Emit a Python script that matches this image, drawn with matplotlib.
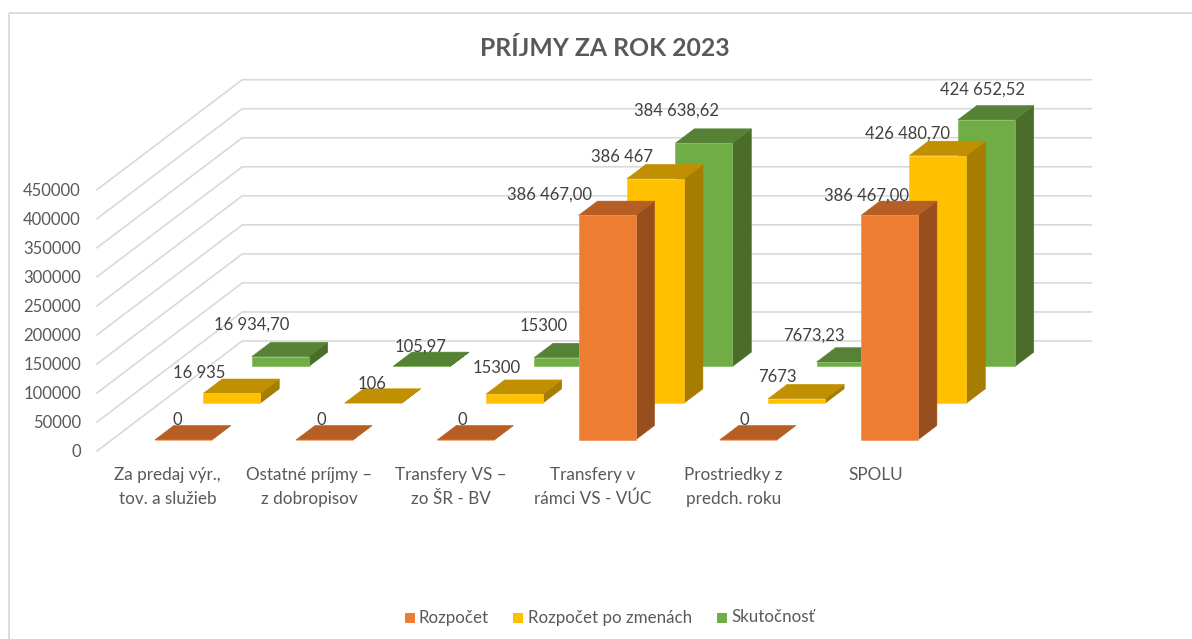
import matplotlib
matplotlib.use("Agg")
import matplotlib.pyplot as plt
from matplotlib.patches import Polygon, Rectangle

plt.rcParams['font.family'] = ['Lato', 'DejaVu Sans']

title = "PRÍJMY ZA ROK 2023"
categories = ["Za predaj výr.,\ntov. a služieb", "Ostatné príjmy –\nz dobropisov",
              "Transfery VS –\nzo ŠR - BV", "Transfery v\nrámci VS - VÚC",
              "Prostriedky z\npredch. roku", "SPOLU"]
series_names = ["Rozpočet", "Rozpočet po zmenách", "Skutočnosť"]
rozpocet = [0, 0, 0, 386467.00, 0, 386467.00]
po_zmenach = [16935, 106, 15300, 386467, 7673, 426480.70]
skutocnost = [16934.70, 105.97, 15300, 384638.62, 7673.23, 424652.52]
labels_rozpocet = ["0", "0", "0", "386 467,00", "0", "386 467,00"]
labels_po_zmenach = ["16 935", "106", "15300", "386 467", "7673", "426 480,70"]
labels_skutocnost = ["16 934,70", "105,97", "15300", "384 638,62", "7673,23", "424 652,52"]
axis_ticks = [0, 50000, 100000, 150000, 200000, 250000, 300000, 350000, 400000, 450000]

all_values = [rozpocet, po_zmenach, skutocnost]
all_labels = [labels_rozpocet, labels_po_zmenach, labels_skutocnost]

# Label offsets in pixels from the top-front-left corner of each bar (style only)
label_offsets = [
    [(22, -20), (25, -20), (25, -20), (-29, -21), (25, -20), (5, -20)],
    [(-4, -20), (27, -19), (11, -26), (-5, -22), (9, -22), (-2, -22)],
    [(0, -32), (28, -20), (9.5, -32), (1, -33), (-3, -26), (25, -30)],
]

# Oblique projection of the 3-D chart box onto the figure pixels
X0, Y0 = 97.0, 451.0
CAT_W = 141.5
DEPTH_X, DEPTH_Y = 48.43, 36.67
Z_PX = 261.3 / 450000
BAR_W = 57.0 / CAT_W
BAR_D = 0.39
BAR_STEP = 0.998
BAR_PAD = 0.305


def proj(x, d, z):
    return (X0 + CAT_W * x + DEPTH_X * d, Y0 - DEPTH_Y * d - Z_PX * z)


front = ["#ED7D31", "#FFC000", "#70AD47"]
top = ["#B65E23", "#C09000", "#558234"]
side = ["#984F1D", "#A67D00", "#4A6E2A"]
edge = ["#F2935B", "#FFC926", "#84BC5F"]

fig = plt.figure(figsize=(11.92, 6.39), dpi=100, facecolor="white")
ax = fig.add_axes([0, 0, 1, 1])
ax.set_xlim(0, 1192)
ax.set_ylim(639, 0)
ax.axis("off")

# chart frame: runs off the right and bottom edges of the picture
ax.add_patch(Rectangle((9, 13), 1300, 800, fill=False, ec="#D9D9D9", lw=1.3, clip_on=True))

ax.text(605, 48.5, title, ha="center", va="center", fontsize=17.8, fontweight="bold", color="#595959")

# walls' gridlines
depth_total = 3
for t in axis_ticks:
    p0 = proj(0, 0, t)
    p1 = proj(0, depth_total, t)
    p2 = proj(len(categories), depth_total, t)
    ax.plot([p0[0], p1[0], p2[0]], [p0[1], p1[1], p2[1]], color="#D9D9D9", lw=1.2,
            solid_joinstyle="miter", zorder=1)
    ax.text(81, p0[1] + 0.8, str(t), ha="right", va="center", fontsize=12, color="#595959")

# bars, back to front
z = 2
for s in range(len(all_values) - 1, -1, -1):
    d0 = s + (1 - BAR_D) / 2
    d1 = d0 + BAR_D
    for c, v in enumerate(all_values[s]):
        x0 = c * BAR_STEP + BAR_PAD
        x1 = x0 + BAR_W
        top_face = [proj(x0, d0, v), proj(x1, d0, v), proj(x1, d1, v), proj(x0, d1, v)]
        side_face = [proj(x1, d0, 0), proj(x1, d1, 0), proj(x1, d1, v), proj(x1, d0, v)]
        front_face = [proj(x0, d0, 0), proj(x1, d0, 0), proj(x1, d0, v), proj(x0, d0, v)]
        ax.add_patch(Polygon(side_face, fc=side[s], ec=side[s], lw=0.4, zorder=z))
        ax.add_patch(Polygon(top_face, fc=top[s], ec=top[s], lw=0.4, zorder=z))
        ax.add_patch(Polygon(front_face, fc=front[s], ec=edge[s], lw=0.5, zorder=z + 0.5))
    z += 1

# data labels
for s, vals in enumerate(all_values):
    d0 = s + (1 - BAR_D) / 2
    for c, v in enumerate(vals):
        x0 = c * BAR_STEP + BAR_PAD
        px, py = proj(x0, d0, v)
        ox, oy = label_offsets[s][c]
        ax.text(px + ox, py + oy, all_labels[s][c], ha="center", va="center", fontsize=12,
                color="#404040", zorder=20)

# category labels
for c, lab in enumerate(categories):
    lx = proj(c + 0.5, 0, 0)[0]
    ly = 487 if "\n" in lab else 475.5
    ax.text(lx, ly, lab, ha="center", va="center", fontsize=12.3, color="#595959",
            linespacing=1.55, zorder=20)

# legend
for sx, tx, name, col in zip([405, 513, 717], [419, 528, 731], series_names, front):
    ax.add_patch(Rectangle((sx, 612.5), 10, 10, fc=col, ec="none"))
    ax.text(tx, 617.5, name, ha="left", va="center", fontsize=12.2, color="#595959")

fig.savefig("out.png", dpi=100, facecolor="white")
